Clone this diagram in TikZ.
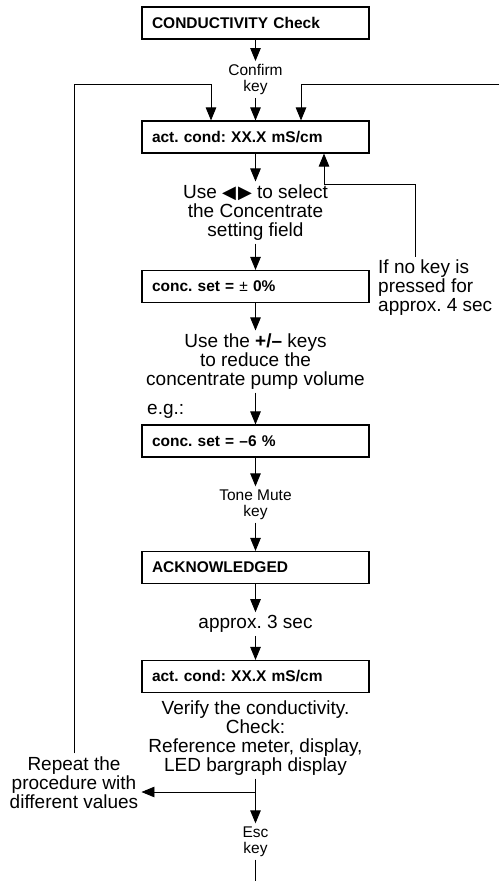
\documentclass[tikz,border=0pt]{standalone}
\usepackage{fontspec}
\setmainfont{Liberation Sans}
\newfontfamily\symfont{DejaVu Sans}
\usetikzlibrary{arrows.meta}
\frenchspacing

\begin{document}
\begin{tikzpicture}[x=1pt,y=-1pt,every node/.style={align=center},
  screen/.style={draw,line width=1.1pt,text width=207pt,align=left,inner xsep=10pt,minimum height=32pt,font=\fontsize{15.5}{16}\selectfont\bfseries},
  note/.style={inner sep=3pt,font=\fontsize{19}{19}\selectfont},
  keynote/.style={inner sep=3pt,font=\fontsize{15.5}{16}\selectfont},
  arr/.style={-{Triangle[length=13pt,width=10.5pt]},line width=0.9pt}]
\useasboundingbox (0,0) rectangle (499,881);
\node[screen] (check) at (255.5,23) {CONDUCTIVITY Check};
\node[keynote] (confirm) at (255.5,79.5) {Confirm\\key};
\node[screen] (actcond) at (255.5,137) {act. cond: XX.X mS/cm};
\node[note] (select) at (255.5,212.5) {Use {\symfont\fontsize{18}{19}\selectfont ◀\kern2pt▶} to select\\the Concentrate\\setting field};
\node[screen] (concset) at (255.5,286.5) {conc. set = {\mdseries ±} 0\%};
\node[note,anchor=west,align=left] (nokey) at (375,288) {If no key is\\pressed for\\approx. 4 sec};
\node[note] (keys) at (255.5,361.5) {Use the \textbf{+/–} keys\\to reduce the\\concentrate pump volume};
\node[note,anchor=west] (eg) at (144,411) {e.g.:};
\node[screen] (concnew) at (255.5,441) {conc. set = –6 \%};
\node[keynote] (tone) at (255.5,504.5) {Tone Mute\\key};
\node[screen] (ack) at (255.5,567.5) {ACKNOWLEDGED};
\node[note] (wait) at (255.5,624) {approx. 3 sec};
\node[screen] (actcheck) at (255.5,676.5) {act. cond: XX.X mS/cm};
\node[note] (verify) at (255.5,738) {Verify the conductivity.\\Check:\\Reference meter, display,\\LED bargraph display};
\node[note] (repeat) at (74,782.5) {Repeat the\\procedure with\\different values};
\node[keynote] (esc) at (255.5,841.5) {Esc\\key};
% loop points
\coordinate (leftbend) at (74,84);
\coordinate (leftdrop) at (211,84);
\coordinate (rightin) at (499,84);
\coordinate (rightdrop) at (301,84);
\coordinate (nokeyturn) at (415,184);
\coordinate (nokeyup) at (324,184);
\coordinate (branch) at (255.5,792);
\coordinate (escend) at (255.5,881);
% main flow
\draw[arr] (check) -- (confirm);
\draw[arr] (confirm) -- (actcond);
\draw[arr] (actcond) -- (select);
\draw[arr] (select) -- (concset);
\draw[arr] (concset) -- (keys);
\draw[arr] (keys) -- (concnew);
\draw[arr] (concnew) -- (tone);
\draw[arr] (tone) -- (ack);
\draw[arr] (ack) -- (wait);
\draw[arr] (wait) -- (actcheck);
\draw[arr] (verify) -- (esc);
\draw[line width=0.9pt] (esc) -- (escend);
% returns
\draw[arr] (branch) -- (branch -| repeat.east);
\draw[arr] (repeat.north) -- (leftbend) -- (leftdrop) -- (leftdrop |- actcond.north);
\draw[arr] (rightin) -- (rightdrop) -- (rightdrop |- actcond.north);
\draw[arr] (nokeyturn |- nokey.north) -- (nokeyturn) -- (nokeyup) -- (nokeyup |- actcond.south);
\end{tikzpicture}
\end{document}
